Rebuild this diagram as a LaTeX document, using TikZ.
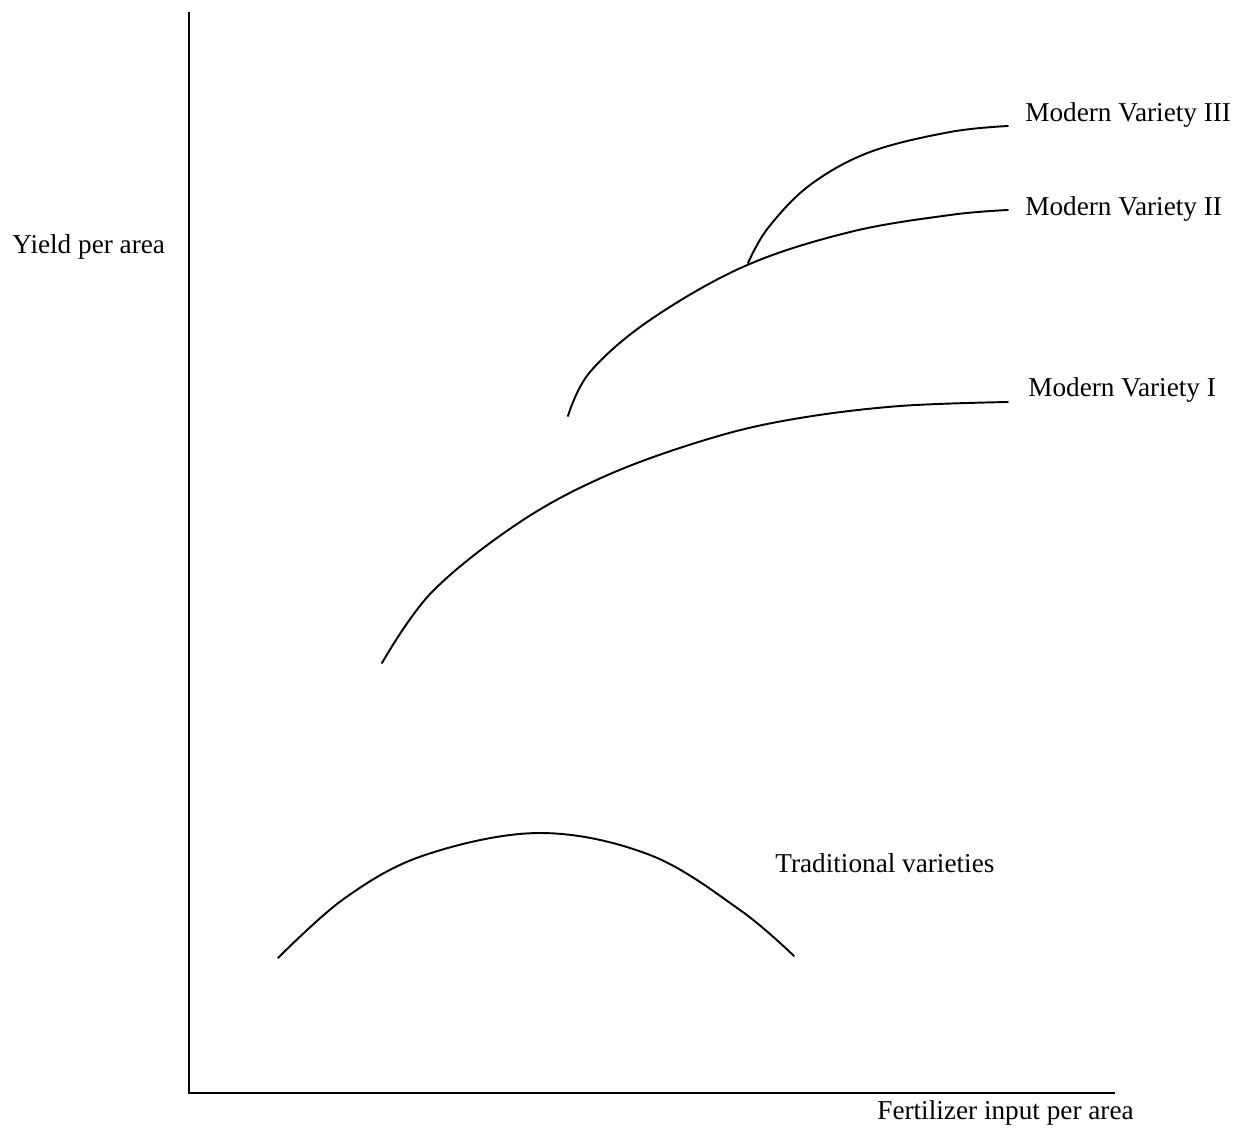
\documentclass[tikz,border=0pt]{standalone}
\usepackage{fontspec}
\setmainfont{Liberation Serif}
\begin{document}
\begin{tikzpicture}[x=0.02cm,y=-0.02cm,
  curve/.style={line width=1.1pt,line cap=round,line join=round},
  axis/.style={line width=1.1pt},
  lbl/.style={inner sep=0pt,font=\fontsize{15.5}{18}\selectfont}]
\useasboundingbox (0,0) rectangle (1250,1135);
\coordinate (top) at (189,12);
\coordinate (origin) at (189,1093);
\coordinate (xend) at (1115,1093);
\draw[axis] (top) -- (origin) -- (xend);
% Traditional
\draw[curve] plot[smooth,tension=0.6] coordinates {(278,958) (345,898) (425,855) (540,833) (650,855) (740,910) (794,956)};
% Modern Variety I
\draw[curve] plot[smooth,tension=0.6] coordinates {(382,663) (432,592) (520,522) (610,474) (715,437) (800,418) (900,406) (1008,402)};
% Modern Variety II
\draw[curve] plot[smooth,tension=0.6] coordinates {(568,416) (590,372) (650,320) (745,266) (850,232) (950,215) (1008,210)};
% Modern Variety III
\draw[curve] plot[smooth,tension=0.6] coordinates {(748,263) (768,228) (810,185) (870,152) (950,132) (1008,126)};
\node[lbl,anchor=west] (l3) at (1025,115) {Modern Variety III};
\node[lbl,anchor=west] (l2) at (1025,209) {Modern Variety II};
\node[lbl,anchor=west] (l1) at (1028,390) {Modern Variety I};
\node[lbl,anchor=west] (lt) at (775,863) {Traditional varieties};
\node[lbl,anchor=west] (ly) at (12,247) {Yield per area};
\node[lbl,anchor=west] (lx) at (877,1113) {Fertilizer input per area};
\end{tikzpicture}
\end{document}
